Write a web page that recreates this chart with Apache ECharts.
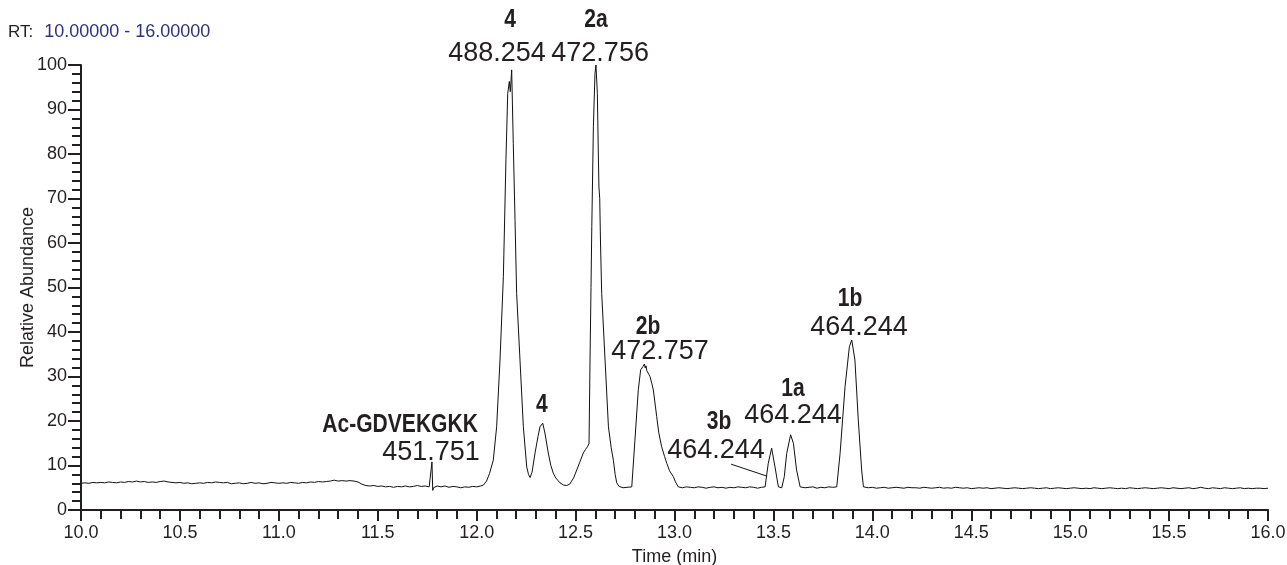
<!DOCTYPE html>
<html>
<head>
<meta charset="utf-8">
<script src="https://cdn.jsdelivr.net/npm/echarts@6/dist/echarts.min.js"></script>
<style>
html,body{margin:0;padding:0;background:#fff;overflow:hidden;}
#chart{width:1287px;height:565px;}
</style>
</head>
<body>
<div id="chart"></div>
<script>
// Chromatogram trace: [time (min), relative abundance]
const traceTimes = [
10.00,10.02,10.04,10.06,10.08,10.10,10.12,10.14,10.16,10.18,10.20,10.22,10.24,10.26,10.28,10.30,10.32,10.34,10.36,10.38,
10.40,10.42,10.44,10.46,10.48,10.50,10.52,10.54,10.56,10.58,10.60,10.62,10.64,10.66,10.68,10.70,10.72,10.74,10.76,10.78,
10.80,10.82,10.84,10.86,10.88,10.90,10.92,10.94,10.96,10.98,11.00,11.02,11.04,11.06,11.08,11.10,11.12,11.14,11.16,11.18,
11.20,11.22,11.24,11.26,11.28,11.30,11.32,11.34,11.36,11.38,11.40,11.42,11.44,11.46,11.48,11.50,11.52,11.54,11.56,11.58,
11.60,11.62,11.64,11.66,11.68,11.70,11.72,11.74,11.76,11.770,11.774,11.778,11.782,11.79,11.80,11.82,11.84,11.86,11.88,11.90,
11.92,11.94,11.96,11.98,12.00,12.02,12.034,12.05,12.065,12.084,12.101,12.118,12.135,12.148,12.157,12.165,12.170,12.177,12.185,12.194,
12.202,12.219,12.236,12.253,12.262,12.270,12.28,12.295,12.31,12.32,12.334,12.345,12.362,12.375,12.387,12.40,12.421,12.44,12.455,12.47,
12.49,12.506,12.52,12.539,12.55,12.56,12.568,12.573,12.578,12.582,12.59,12.598,12.603,12.61,12.615,12.618,12.622,12.626,12.632,12.649,
12.666,12.68,12.691,12.70,12.708,12.72,12.74,12.76,12.784,12.80,12.817,12.829,12.84,12.848,12.852,12.856,12.86,12.866,12.87,12.876,
12.885,12.893,12.91,12.92,12.935,12.95,12.961,12.975,12.994,13.005,13.019,13.04,13.06,13.08,13.10,13.12,13.14,13.16,13.18,13.20,
13.22,13.24,13.26,13.28,13.30,13.32,13.34,13.36,13.38,13.40,13.42,13.44,13.458,13.474,13.491,13.508,13.525,13.542,13.555,13.567,
13.587,13.601,13.617,13.635,13.66,13.68,13.70,13.72,13.74,13.76,13.78,13.80,13.82,13.837,13.862,13.884,13.896,13.912,13.929,13.946,
13.955,13.98,14.00,14.02,14.04,14.06,14.08,14.10,14.12,14.14,14.16,14.18,14.20,14.22,14.24,14.26,14.28,14.30,14.32,14.34,
14.36,14.38,14.40,14.42,14.44,14.46,14.48,14.50,14.52,14.54,14.56,14.58,14.60,14.62,14.64,14.66,14.68,14.70,14.72,14.74,
14.76,14.78,14.80,14.82,14.84,14.86,14.88,14.90,14.92,14.94,14.96,14.98,15.00,15.02,15.04,15.06,15.08,15.10,15.12,15.14,
15.16,15.18,15.20,15.22,15.24,15.26,15.28,15.30,15.32,15.34,15.36,15.38,15.40,15.42,15.44,15.46,15.48,15.50,15.52,15.54,
15.56,15.58,15.60,15.62,15.64,15.66,15.68,15.70,15.72,15.74,15.76,15.78,15.80,15.82,15.84,15.86,15.88,15.90,15.92,15.94,
15.96,15.98,16.00
];
const traceValues = [
6.0,6.1,6.0,6.2,6.1,6.2,6.1,6.3,6.2,6.1,6.3,6.2,6.4,6.3,6.5,6.3,6.4,6.2,6.3,6.2,
6.4,6.5,6.3,6.2,6.1,6.2,6.0,6.1,5.9,6.0,6.1,6.0,6.2,6.1,6.3,6.2,6.1,6.2,5.9,6.0,
6.1,5.9,6.0,6.2,6.0,6.1,5.9,6.0,6.2,6.1,6.0,6.1,6.0,6.2,6.1,6.0,6.2,6.1,6.3,6.2,
6.4,6.3,6.4,6.5,6.7,6.5,6.6,6.5,6.6,6.5,6.3,5.8,5.5,5.4,5.5,5.3,5.4,5.2,5.3,5.1,
5.3,5.2,5.4,5.2,5.3,5.5,5.3,5.4,5.2,5.3,10.8,4.4,5.0,5.3,5.4,5.2,5.4,5.1,5.3,5.2,
5.0,5.2,5.1,5.3,5.2,5.4,5.6,6.5,8.2,11.2,18.7,33.7,52.4,78.7,93.6,96.3,94.0,98.9,82.4,65.0,
48.7,33.7,18.7,9.7,8.0,7.3,8.5,12.8,16.5,18.7,19.5,17.3,12.8,10.0,8.3,7.2,6.1,5.6,5.5,5.8,
7.2,9.0,10.6,12.8,13.6,14.2,15.0,33.7,50.0,63.7,86.1,98.1,100.0,93.6,80.0,72.6,70.0,60.0,48.7,33.7,
18.7,14.0,11.2,8.0,6.1,5.3,5.0,5.1,5.2,15.7,27.0,31.5,32.2,32.8,31.9,32.4,31.3,31.0,30.5,30.0,
28.5,27.0,21.0,17.5,14.2,12.0,10.5,8.8,7.5,6.3,5.2,5.0,5.2,5.1,5.0,5.2,5.1,4.9,5.1,5.2,
5.0,5.1,4.9,5.1,5.0,5.2,5.1,5.0,5.2,5.1,4.9,5.1,5.2,10.5,13.9,9.7,5.2,5.0,7.5,12.7,
16.9,15.0,9.0,5.2,5.0,5.1,5.2,4.9,5.1,5.0,5.2,5.1,5.2,12.7,27.7,36.7,38.2,33.7,20.2,9.0,
5.2,5.0,5.1,4.9,5.0,5.1,4.9,5.0,5.1,5.0,4.9,5.1,5.0,5.0,4.9,5.1,5.0,4.9,5.0,5.1,
4.9,5.0,4.9,5.1,5.0,4.9,5.0,4.8,4.9,5.0,4.9,5.0,4.8,4.9,5.0,4.9,4.8,4.9,5.0,4.9,
4.8,4.9,5.0,4.9,4.8,4.9,5.0,4.8,4.9,5.0,4.9,4.8,4.9,5.0,4.9,4.8,4.9,4.8,5.0,4.9,
4.8,4.9,5.0,4.9,4.8,4.9,4.8,5.0,4.9,4.8,4.9,5.0,4.9,4.8,4.9,5.0,4.9,4.8,5.0,4.9,
4.8,4.9,5.0,4.8,4.9,5.1,4.9,4.8,5.0,4.9,4.8,5.0,4.9,4.8,4.9,5.0,4.8,4.9,4.8,4.9,
4.9,4.8,4.9
];

// Peak names (bold) and m/z labels, anchored at [time, abundance]
const nameTimes  = [12.169, 12.603, 12.866, 13.887, 13.599, 13.225, 11.613, 12.330];
const nameValues = [110.1, 110.1, 41.1, 47.5, 27.2, 19.8, 19.1, 23.6];
const nameTexts  = ['4', '2a', '2b', '1b', '1a', '3b', 'Ac-GDVEKGKK', '4'];
const mzTimes  = [12.103, 12.624, 12.927, 13.933, 13.599, 13.210, 11.769];
const mzValues = [102.5, 102.5, 35.7, 40.9, 21.3, 13.3, 12.9];
const mzTexts  = ['488.254', '472.756', '472.757', '464.244', '464.244', '464.244', '451.751'];

// Leader line for 3b label
const leaderStart = [13.286, 10.3];
const leaderEnd = [13.468, 7.6];

const xTicksMin = 10, xTicksMax = 16, xInterval = 0.5;
const yTicksMin = 0, yTicksMax = 100, yInterval = 10;

const trace = traceTimes.map((t, i) => [t, traceValues[i]]);
const mzData = mzTimes.map((t, i) => [t, mzValues[i]]);

const FONT = '"Liberation Sans", Arial, sans-serif';
const ink = '#231f20';
const chart = echarts.init(document.getElementById('chart'), null, {renderer: 'canvas', width: 1287, height: 565});
chart.setOption({
  animation: false,
  backgroundColor: '#ffffff',
  grid: {left: 81, right: 19, top: 65, bottom: 55, containLabel: false, outerBoundsMode: 'none'},
  xAxis: {
    type: 'value', min: xTicksMin, max: xTicksMax, interval: xInterval,
    name: 'Time (min)', nameLocation: 'middle', nameGap: 38, nameMoveOverlap: false,
    nameTextStyle: {color: ink, fontSize: 18, fontFamily: FONT},
    axisLine: {show: true, onZero: false, lineStyle: {color: ink, width: 2}},
    axisTick: {show: true, inside: false, length: 11, lineStyle: {color: ink, width: 2}},
    minorTick: {show: true, splitNumber: 5, length: 9, lineStyle: {color: ink, width: 2}},
    axisLabel: {color: ink, fontSize: 18, margin: 14, fontFamily: FONT, formatter: v => v.toFixed(1)},
    splitLine: {show: false}
  },
  yAxis: {
    type: 'value', min: yTicksMin, max: yTicksMax, interval: yInterval,
    name: 'Relative Abundance', nameLocation: 'middle', nameGap: 44, nameRotate: 90, nameMoveOverlap: false,
    nameTextStyle: {color: ink, fontSize: 18, fontFamily: FONT},
    axisLine: {show: true, onZero: false, lineStyle: {color: ink, width: 2}},
    axisTick: {show: true, inside: false, length: 13, lineStyle: {color: ink, width: 2}},
    minorTick: {show: true, splitNumber: 5, length: 9, lineStyle: {color: ink, width: 2}},
    axisLabel: {color: ink, fontSize: 18, margin: 14, fontFamily: FONT},
    splitLine: {show: false}
  },
  series: [
    {
      type: 'line', data: trace, symbol: 'none', showSymbol: false,
      lineStyle: {color: '#111111', width: 1}, clip: true,
      markLine: {
        silent: true, symbol: ['none', 'none'],
        lineStyle: {color: '#111111', width: 1, type: 'solid'},
        label: {show: false},
        data: [[{coord: leaderStart}, {coord: leaderEnd}]]
      }
    },
    {
      type: 'scatter', data: mzData, symbolSize: 0, clip: false, silent: true,
      itemStyle: {opacity: 1, color: 'rgba(0,0,0,0)'},
      label: {show: true, position: 'inside', align: 'center', verticalAlign: 'middle',
        color: ink, opacity: 1, fontSize: 27, fontFamily: FONT,
        formatter: p => mzTexts[p.dataIndex]}
    }
  ]
});

// Bold condensed peak names, positioned through the axis scales
const graphics = [
  {type: 'text', left: 8, top: 23, style: {
    text: '{a|RT:}{b|10.00000 - 16.00000}',
    rich: {
      a: {fill: ink, fontSize: 17, fontFamily: FONT},
      b: {fill: '#2e3183', fontSize: 18, fontFamily: FONT, padding: [0, 0, 0, 11]}
    }
  }}
];
nameTimes.forEach((t, i) => {
  const p = chart.convertToPixel({gridIndex: 0}, [t, nameValues[i]]);
  graphics.push({
    type: 'text', x: p[0], y: p[1], scaleX: 0.81, scaleY: 1, silent: true,
    style: {text: nameTexts[i], fill: ink, font: 'bold 26px ' + FONT, align: 'center', verticalAlign: 'middle'}
  });
});
chart.setOption({graphic: graphics});
</script>
</body>
</html>
